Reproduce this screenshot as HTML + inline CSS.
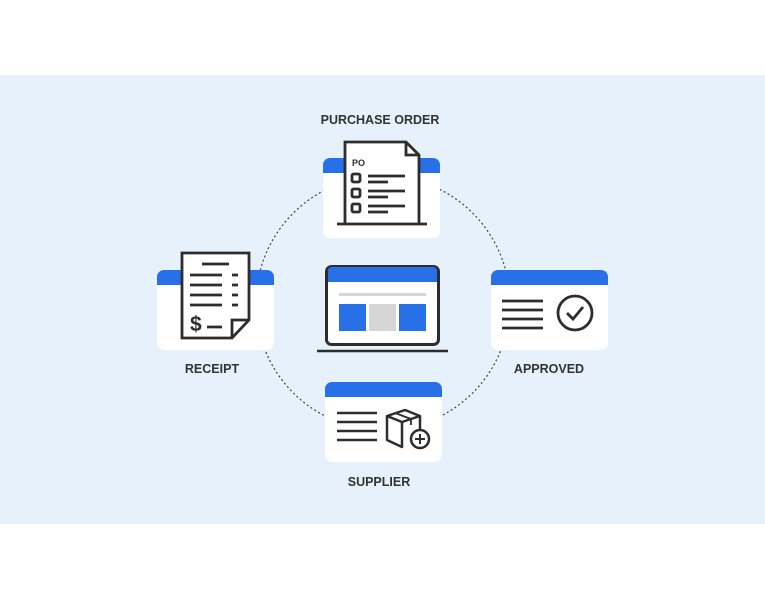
<!DOCTYPE html>
<html><head><style>
body{margin:0;width:765px;height:600px;background:#fff;overflow:hidden;font-family:"Liberation Sans",sans-serif}
</style></head><body>
<svg width="765" height="600" xmlns="http://www.w3.org/2000/svg">
<rect x="0" y="75" width="765" height="449" fill="#e6f1fc"/>
<circle cx="383" cy="303" r="127" fill="none" stroke="#444" stroke-width="1.2" stroke-dasharray="2,2.5"/>
<g font-family="Liberation Sans, sans-serif" font-weight="bold" font-size="12.5" fill="#333" text-anchor="middle">
<text x="380" y="124">PURCHASE ORDER</text>
<text x="212" y="373">RECEIPT</text>
<text x="549" y="373">APPROVED</text>
<text x="379" y="486">SUPPLIER</text>
</g>
<g>
<rect x="323" y="158" width="117" height="80" rx="7" fill="#fff"/>
<path d="M323 173 V165 a7 7 0 0 1 7-7 H433 a7 7 0 0 1 7 7 V173 Z" fill="#2870e8"/>
<rect x="157" y="270" width="117" height="80" rx="7" fill="#fff"/>
<path d="M157 285 V277 a7 7 0 0 1 7-7 H267 a7 7 0 0 1 7 7 V285 Z" fill="#2870e8"/>
<rect x="491" y="270" width="117" height="80" rx="7" fill="#fff"/>
<path d="M491 285 V277 a7 7 0 0 1 7-7 H601 a7 7 0 0 1 7 7 V285 Z" fill="#2870e8"/>
<rect x="325" y="382" width="117" height="80" rx="7" fill="#fff"/>
<path d="M325 397 V389 a7 7 0 0 1 7-7 H435 a7 7 0 0 1 7 7 V397 Z" fill="#2870e8"/>
</g>
<g stroke="#2d2d2d" stroke-width="2.8" fill="none">
<path d="M345 223 V142 H406 L419 155 V223" fill="#fff"/>
<path d="M406 142 V155 H419"/>
<line x1="337" y1="224" x2="427" y2="224"/>
<rect x="352" y="174" width="8" height="8" rx="1.5"/>
<rect x="352" y="189" width="8" height="8" rx="1.5"/>
<rect x="352" y="204" width="8" height="8" rx="1.5"/>
<path d="M368 176H405M368 182H388M368 191H405M368 197H388M368 206H405M368 212H388"/>
</g>
<text x="352" y="166" font-family="Liberation Sans, sans-serif" font-weight="bold" font-size="9" fill="#2d2d2d">PO</text>
<g stroke="#2d2d2d" stroke-width="2.8" fill="none">
<path d="M232 338 H182 V253 H249 V320 Z" fill="#fff"/>
<path d="M249 320 H232 V338"/>
<path d="M202 264H229M190 275H222M232 275H238M190 285H222M232 285H238M190 295H222M232 295H238M190 305H222M232 305H238M207 327H222"/>
</g>
<text x="190" y="331" font-family="Liberation Sans, sans-serif" font-weight="bold" font-size="21" fill="#2d2d2d">$</text>
<g stroke="#2d2d2d" stroke-width="2.8" fill="none">
<path d="M502 301H543M502 310H543M502 319H543M502 328H543"/>
<circle cx="575" cy="313" r="17"/>
<path d="M567 313 L573 319 L583 307"/>
</g>
<g stroke="#2d2d2d" stroke-width="2.5" fill="none" stroke-linejoin="round">
<path d="M337 413H377M337 422H377M337 431H377M337 440H377"/>
<path d="M387 416 L405 410 L420 416 L402 422 Z"/>
<path d="M387 416 V440 L402 447 V422"/>
<path d="M420 416 V430"/>
<path d="M395 413 L411 419 V425" stroke-width="1.8"/>
<circle cx="420" cy="439" r="9" fill="#fff"/>
<path d="M420 434V444M415 439H425" stroke-width="2"/>
</g>
<rect x="326.5" y="266.5" width="112" height="78" rx="5" fill="#fff" stroke="#2d2d2d" stroke-width="3"/>
<path d="M328 282 V271 a4 4 0 0 1 4-4 H433 a4 4 0 0 1 4 4 V282 Z" fill="#2870e8"/>
<rect x="339" y="293" width="87" height="3" fill="#d6d6d6"/>
<rect x="339" y="304" width="27" height="27" fill="#2870e8"/>
<rect x="369" y="304" width="27" height="27" fill="#d6d6d6"/>
<rect x="399" y="304" width="27" height="27" fill="#2870e8"/>
<line x1="317" y1="351" x2="448" y2="351" stroke="#2d2d2d" stroke-width="2.5"/>
</svg>
</body></html>
